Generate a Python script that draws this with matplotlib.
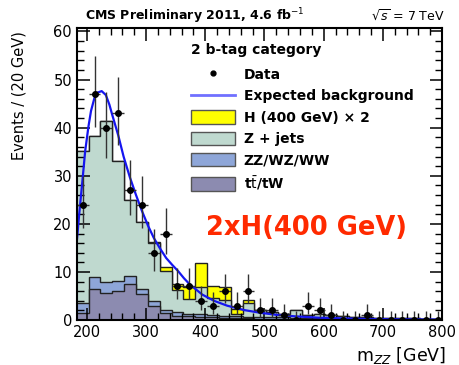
import numpy as np
import matplotlib
matplotlib.use("Agg")
import matplotlib.pyplot as plt
from matplotlib.patches import Patch
from matplotlib.lines import Line2D

# m_ZZ histogram, 20 GeV bins starting at 183 GeV
bin_lo = 183
bin_w = 20
n_bins = 31

data = [24, 47, 40, 43, 27, 24, 14, 18, 7, 7, 4, 3, 6, 3, 6, 2, 2, 1, 0, 3,
        2, 1, 0, 0, 1, 0, 0, 0, 0, 0, 0]
ttbar = [1.5, 6.5, 5.7, 6.1, 7.5, 5.5, 3.0, 1.4, 0.9, 0.8, 0.7, 0.6, 0.5, 0.4, 0.4, 0.3,
         0.3, 0.3, 0.2, 0.2, 0.2, 0.2, 0.1, 0.1, 0.1, 0.1, 0.1, 0.1, 0.1, 0.1, 0.1]
diboson = [2.0, 2.5, 2.3, 2.1, 1.6, 0.9, 0.9, 0.6, 0.7, 0.5, 0.5, 0.5, 0.4, 0.4, 0.3, 0.3,
           0.3, 0.3, 0.2, 0.2, 0.2, 0.2, 0.2, 0.2, 0.1, 0.1, 0.1, 0.1, 0.1, 0.1, 0.1]
zjets = [31.6, 29.2, 33.3, 24.8, 15.9, 13.9, 12.1, 8.3, 4.7, 3.1, 5.6, 3.4, 3.3, 0.5, 2.8, 1.4,
         1.0, 0.7, 1.6, 0.6, 0.8, 0.6, 0.5, 0.4, 0.4, 0.3, 0.3, 0.2, 0.2, 0.1, 0.1]
higgs_x2 = [0, 0, 0, 0, 0, 0, 0.2, 0.7, 1.2, 2.4, 5.1, 2.5, 2.6, 1.1, 0.6, 0.2,
            0, 0, 0, 0, 0, 0, 0, 0, 0, 0, 0, 0, 0, 0, 0]

# expected background curve, read point by point
curve_m = [183, 187, 192.5, 197, 202.6, 207, 212.6, 218, 225, 232, 238, 243, 253, 262,
           272.6, 283, 293, 303, 313, 323, 334, 344, 354, 364, 374, 395, 415, 437,
           465, 494, 520, 550, 592, 650, 700, 800]
curve_y = [16.4, 22, 29.0, 35, 40.2, 43.5, 46.1, 47.3, 47.6, 46.8, 44.8, 42.6, 38.4, 34,
           29.7, 26, 22.7, 19.7, 17.1, 15, 12.9, 11.5, 10.2, 8.7, 7.4, 5.3, 4.0, 3.0,
           2.1, 1.5, 1.1, 0.8, 0.5, 0.3, 0.2, 0.1]

edges = bin_lo + bin_w * np.arange(n_bins + 1)
centers = edges[:-1] + bin_w / 2

tt = np.array(ttbar)
vv = tt + np.array(diboson)
bkg = vv + np.array(zjets)
sig = bkg + np.array(higgs_x2)

c_sig = "#ffff00"
c_zj = "#bfd9cf"
c_vv = "#8ea6d8"
c_tt = "#8c8bb0"
c_line = "#1515f0"

fig = plt.figure(figsize=(4.6, 3.65), dpi=100)
ax = fig.add_axes([0.167, 0.123, 0.794, 0.8])

for vals, col in [(sig, c_sig), (bkg, c_zj), (vv, c_vv), (tt, c_tt)]:
    ax.stairs(vals, edges, baseline=0, fill=True, color=col)
    ax.stairs(vals, edges, baseline=None, color="#222222", lw=1.0)

ax.plot(curve_m, curve_y, color=c_line, lw=1.6)

# Poisson errors (Gehrels approximation)
n = np.array(data, dtype=float)
err_up = 1 + np.sqrt(n + 0.75)
err_lo = np.where(n > 0, np.sqrt(np.clip(n - 0.25, 0, None)), 0)
ax.errorbar(centers, n, yerr=[err_lo, err_up], xerr=bin_w / 2, fmt="o", ms=4,
            color="black", ecolor="#333333", elinewidth=1.0, capsize=0)

ax.set_xlim(183, 800)
ax.set_ylim(0, 60.7)
ax.set_xticks([200, 300, 400, 500, 600, 700, 800])
ax.set_yticks([0, 10, 20, 30, 40, 50, 60])
ax.set_xticks(np.arange(200, 801, 20), minor=True)
ax.set_yticks(np.arange(0, 61, 2), minor=True)
ax.tick_params(which="both", direction="in", top=True, right=True, labelsize=10.5)
ax.tick_params(which="major", length=9, width=1.1)
ax.tick_params(which="minor", length=5, width=1.0)
for s in ax.spines.values():
    s.set_linewidth(1.5)

ax.set_ylabel("Events / (20 GeV)", fontsize=10.5, loc="top")
ax.yaxis.set_label_coords(-0.138, 0.99)
ax.set_xlabel("m$_{ZZ}$ [GeV]", fontsize=12.5, loc="right")
ax.xaxis.set_label_coords(1.01, -0.085)

fig.text(0.185, 0.955, "CMS Preliminary 2011, 4.6 fb$^{-1}$", fontsize=9,
         fontweight="bold", va="center")
fig.text(0.967, 0.955, r"$\sqrt{s}$ = 7 TeV", fontsize=9, ha="right", va="center")

handles = [
    Line2D([], [], ls="none", marker="o", ms=3.5, color="black"),
    Line2D([], [], color="#7070ff", lw=2),
    Patch(facecolor=c_sig, edgecolor="#555555"),
    Patch(facecolor=c_zj, edgecolor="#555555"),
    Patch(facecolor=c_vv, edgecolor="#555555"),
    Patch(facecolor=c_tt, edgecolor="#555555"),
]
labels = ["Data", "Expected background", "H (400 GeV) \u00d7 2", "Z + jets",
          "ZZ/WZ/WW", r"t$\bar{\rm t}$/tW"]
leg = ax.legend(handles, labels, loc="upper left", bbox_to_anchor=(0.305, 0.96),
                frameon=False, title="2 b-tag category", alignment="left",
                prop={"size": 10, "weight": "bold"}, handlelength=3.2,
                handleheight=1.1, labelspacing=0.5, handletextpad=0.6,
                borderaxespad=0, borderpad=0.2)
leg.get_title().set_fontsize(10)
leg.get_title().set_fontweight("bold")
leg._legend_box.sep = 8

ax.text(0.63, 0.315, "2xH(400 GeV)", transform=ax.transAxes, color="#ff2a00",
        fontsize=18.5, fontweight="bold", ha="center", va="center")

fig.savefig("out.png", dpi=100)
